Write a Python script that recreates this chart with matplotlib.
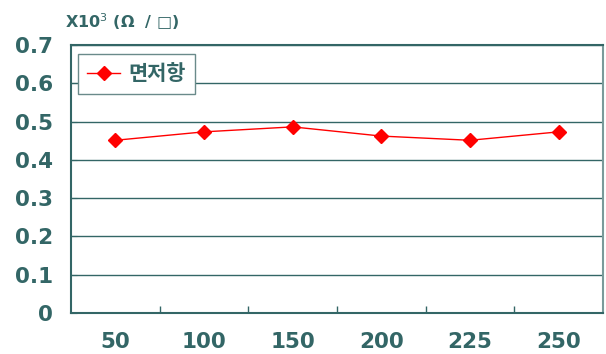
import matplotlib.pyplot as plt
import numpy as np

categories = ["50", "100", "150", "200", "225", "250"]
resistance = [0.451, 0.473, 0.486, 0.462, 0.451, 0.473]
y_ticks = [0, 0.1, 0.2, 0.3, 0.4, 0.5, 0.6, 0.7]
y_labels = ["0", "0.1", "0.2", "0.3", "0.4", "0.5", "0.6", "0.7"]

teal = "#336666"
plt.rcParams['font.family'] = ['DejaVu Sans', 'Noto Sans CJK KR']

fig = plt.figure(figsize=(6.06, 3.54), dpi=100)
ax = fig.add_axes([0.117, 0.116, 0.878, 0.757])

x = np.arange(len(categories))
ax.plot(x, resistance, color="red", lw=1, marker="D", ms=7,
        mec="red", mfc="red", label="면저항")

ax.set_xlim(-0.5, len(categories) - 0.5)
ax.set_ylim(0, 0.7)
ax.set_yticks(y_ticks)
ax.set_yticklabels(y_labels)
ax.yaxis.grid(True, color=teal, lw=1)
ax.set_axisbelow(True)

# category separators as ticks
ax.set_xticks(x[:-1] + 0.5, minor=True)
ax.set_xticks(x)
ax.set_xticklabels(categories)
ax.tick_params(axis="x", which="major", length=0, pad=14)
ax.tick_params(axis="x", which="minor", length=5, direction="in", color=teal, width=1)
ax.tick_params(axis="y", length=4, direction="in", color=teal, pad=13)
for lab in ax.get_xticklabels() + ax.get_yticklabels():
    lab.set_fontweight("bold")
    lab.set_fontsize(15.5)
    lab.set_color(teal)

for side in ["left", "bottom", "top"]:
    ax.spines[side].set_color(teal)
    ax.spines[side].set_linewidth(1.5)
ax.spines["right"].set_color("#7a9a9a")
ax.spines["right"].set_linewidth(1.5)

leg = ax.legend(loc="upper left", bbox_to_anchor=(-0.007, 1.005), fancybox=False,
                framealpha=1, edgecolor="#6a8a8a", borderpad=0.45,
                handlelength=1.6, handletextpad=0.4,
                prop={"family": ["Noto Sans CJK KR"], "weight": "bold", "size": 15})
for t in leg.get_texts():
    t.set_color(teal)

fig.text(0.107, 0.94, "X10$^3$ (Ω  / □)", fontsize=11.5, fontweight="bold",
         color=teal, ha="left", va="center",
         family=["DejaVu Sans", "Noto Sans CJK KR"])

fig.savefig("out.png", dpi=100)
